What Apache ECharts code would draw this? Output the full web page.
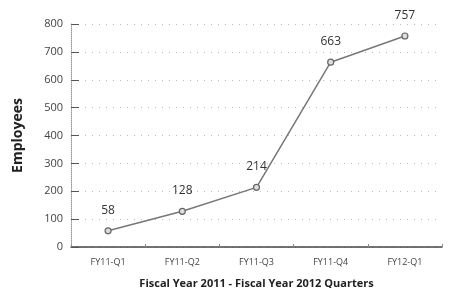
<!DOCTYPE html>
<html>
<head>
<meta charset="utf-8">
<script src="https://cdn.jsdelivr.net/npm/echarts@6/dist/echarts.min.js"></script>
<style>
  html, body { margin: 0; padding: 0; background: #fff; }
  #chart { width: 451px; height: 288px; }
</style>
</head>
<body>
<div id="chart"></div>
<script>
// 季度
var quarters = ['FY11-Q1', 'FY11-Q2', 'FY11-Q3', 'FY11-Q4', 'FY12-Q1'];
// 员工人数
var employees = [58, 128, 214, 663, 757];
// 纵轴刻度
var yTicks = [0, 100, 200, 300, 400, 500, 600, 700, 800];

var chart = echarts.init(document.getElementById('chart'));

var option = {
  animation: false,
  backgroundColor: '#fff',
  grid: {
    left: 71,
    right: 9,
    top: 24,
    bottom: 41,
    outerBoundsMode: 'none'
  },
  xAxis: {
    type: 'category',
    data: quarters,
    boundaryGap: true,
    name: 'Fiscal Year 2011 - Fiscal Year 2012 Quarters',
    nameLocation: 'middle',
    nameGap: 31,
    nameTextStyle: {
      fontFamily: 'Open Sans',
      fontWeight: 'bold',
      fontSize: 11,
      color: '#222'
    },
    axisLine: { lineStyle: { color: '#444', width: 1.5 } },
    axisTick: { show: true, inside: true, length: 3, lineStyle: { color: '#888' } },
    axisLabel: {
      fontFamily: 'Open Sans',
      fontSize: 9,
      color: '#444',
      margin: 11
    }
  },
  yAxis: {
    type: 'value',
    min: yTicks[0],
    max: yTicks[yTicks.length - 1],
    interval: 100,
    name: 'Employees',
    nameLocation: 'middle',
    nameGap: 46,
    nameTextStyle: {
      fontFamily: 'Open Sans',
      fontWeight: 'bold',
      fontSize: 14,
      color: '#222'
    },
    axisLine: { show: true, lineStyle: { color: '#999', type: 'dotted', width: 1 } },
    axisTick: { show: true, inside: true, length: 8, lineStyle: { color: '#555' } },
    axisLabel: {
      fontFamily: 'Open Sans',
      fontSize: 11,
      color: '#444',
      margin: 8
    },
    splitLine: {
      show: true,
      lineStyle: { color: '#bbb', type: [1, 6], width: 1 }
    }
  },
  series: [{
    name: 'Employees',
    type: 'line',
    data: employees,
    symbol: 'circle',
    symbolSize: 6,
    itemStyle: { color: '#ddd', borderColor: '#666', borderWidth: 1.2 },
    lineStyle: { color: '#777', width: 1.5 },
    label: {
      show: true,
      position: 'top',
      distance: 11,
      fontFamily: 'Open Sans',
      fontSize: 12,
      color: '#333'
    }
  }]
};

chart.setOption(option);
</script>
</body>
</html>
